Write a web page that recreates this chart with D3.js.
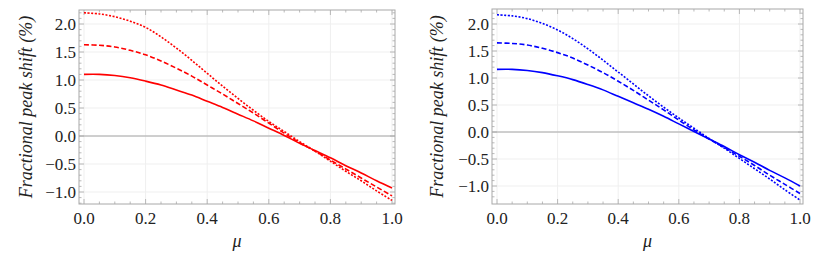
<!DOCTYPE html>
<html>
<head>
<meta charset="utf-8">
<script src="https://cdn.jsdelivr.net/npm/d3@7"></script>
<style>
body { margin: 0; background: #fff; }
</style>
</head>
<body>
<script>
// mu samples shared by every curve
const mu = [0, 0.05, 0.1, 0.15, 0.2, 0.25, 0.3, 0.35, 0.4, 0.45, 0.5,
            0.55, 0.6, 0.65, 0.7, 0.75, 0.8, 0.85, 0.9, 0.95, 1.0];

// left panel (red)
const leftSolid  = [1.10, 1.10, 1.08, 1.04, 0.98, 0.91, 0.82, 0.73, 0.62, 0.51, 0.39,
                    0.27, 0.14, 0.01, -0.13, -0.26, -0.39, -0.53, -0.66, -0.80, -0.93];
const leftDashed = [1.63, 1.62, 1.59, 1.53, 1.45, 1.34, 1.21, 1.07, 0.91, 0.75, 0.58,
                    0.41, 0.23, 0.05, -0.12, -0.27, -0.43, -0.59, -0.75, -0.91, -1.07];
const leftDotted = [2.20, 2.18, 2.13, 2.05, 1.94, 1.77, 1.57, 1.35, 1.12, 0.89, 0.67,
                    0.46, 0.26, 0.08, -0.10, -0.27, -0.45, -0.63, -0.80, -0.98, -1.15];

// right panel (blue)
const rightSolid  = [1.16, 1.16, 1.14, 1.10, 1.04, 0.97, 0.88, 0.78, 0.66, 0.54, 0.42,
                     0.29, 0.15, 0.01, -0.13, -0.27, -0.42, -0.56, -0.71, -0.85, -1.00];
const rightDashed = [1.65, 1.64, 1.61, 1.55, 1.47, 1.37, 1.24, 1.10, 0.94, 0.77, 0.59,
                     0.41, 0.22, 0.04, -0.13, -0.29, -0.45, -0.62, -0.80, -0.97, -1.14];
const rightDotted = [2.17, 2.15, 2.10, 2.01, 1.89, 1.73, 1.54, 1.33, 1.11, 0.89, 0.67,
                     0.46, 0.26, 0.07, -0.12, -0.30, -0.49, -0.68, -0.87, -1.07, -1.26];

const xTicks = [0, 0.2, 0.4, 0.6, 0.8, 1.0];
const yTicks = [-1.0, -0.5, 0.0, 0.5, 1.0, 1.5, 2.0];
const yLabel = "Fractional peak shift (%)";
const xLabel = "\u03bc";

const FONT = "Liberation Serif";

const width = 830, height = 259;
const svg = d3.select("body").append("svg")
    .attr("width", width)
    .attr("height", height);

const fmt = d => d < 0 ? "\u2212" + d3.format(".1f")(-d) : d3.format(".1f")(d);

function drawPanel(p) {
    const g = svg.append("g");
    const x = d3.scaleLinear().domain([0, 1]).range([p.x0, p.x1]);
    const y = d3.scaleLinear().domain([-1, 2]).range([p.yMinus1, p.y2]);
    const L = p.x0 - 5, R = p.x1 + 3, T = p.top, B = p.bottom;

    // grid
    g.selectAll(".vg").data(xTicks).enter().append("line")
        .attr("x1", d => x(d)).attr("x2", d => x(d))
        .attr("y1", T).attr("y2", B)
        .attr("stroke", "#efefef").attr("stroke-width", 1);
    g.selectAll(".hg").data(yTicks).enter().append("line")
        .attr("x1", L).attr("x2", R)
        .attr("y1", d => y(d)).attr("y2", d => y(d))
        .attr("stroke", "#efefef").attr("stroke-width", 1);

    // zero axis
    g.append("line")
        .attr("x1", L).attr("x2", R)
        .attr("y1", y(0)).attr("y2", y(0))
        .attr("stroke", "#a6a6a6").attr("stroke-width", 1);

    // frame ticks (inward, all four sides)
    const xMinor = d3.range(0, 1.0001, 0.05).filter(v => Math.abs(v * 5 - Math.round(v * 5)) > 1e-6);
    const yMinor = d3.range(-1.2, 2.2001, 0.1).filter(v => Math.abs(v * 2 - Math.round(v * 2)) > 1e-6 && y(v) > T && y(v) < B);
    const tk = g.append("g").attr("stroke", "#a8a8a8").attr("stroke-width", 0.8);
    [[xTicks, 5], [xMinor, 2.5]].forEach(([arr, len]) => {
        tk.selectAll(null).data(arr).enter().append("line")
            .attr("x1", d => x(d)).attr("x2", d => x(d)).attr("y1", B).attr("y2", B - len);
        tk.selectAll(null).data(arr).enter().append("line")
            .attr("x1", d => x(d)).attr("x2", d => x(d)).attr("y1", T).attr("y2", T + len);
    });
    [[yTicks, 5], [yMinor, 2.5]].forEach(([arr, len]) => {
        tk.selectAll(null).data(arr).enter().append("line")
            .attr("y1", d => y(d)).attr("y2", d => y(d)).attr("x1", L).attr("x2", L + len);
        tk.selectAll(null).data(arr).enter().append("line")
            .attr("y1", d => y(d)).attr("y2", d => y(d)).attr("x1", R).attr("x2", R - len);
    });

    // frame
    g.append("rect")
        .attr("x", L).attr("y", T).attr("width", R - L).attr("height", B - T)
        .attr("fill", "none").attr("stroke", "#a8a8a8").attr("stroke-width", 1);

    // tick labels
    g.selectAll(".xl").data(xTicks).enter().append("text")
        .attr("font-family", FONT)
        .attr("x", d => x(d)).attr("y", B + 20)
        .attr("text-anchor", "middle").attr("font-size", 17).attr("fill", "#222")
        .text(d => d3.format(".1f")(d));
    g.selectAll(".yl").data(yTicks).enter().append("text")
        .attr("font-family", FONT)
        .attr("x", L - 3).attr("y", d => y(d) + 5.5)
        .attr("text-anchor", "end").attr("font-size", 17).attr("fill", "#222")
        .text(fmt);

    // axis labels
    g.append("text")
        .attr("font-family", FONT).attr("font-style", "italic")
        .attr("transform", `translate(${p.yLabelX},${(T + B) / 2}) rotate(-90)`)
        .attr("text-anchor", "middle").attr("font-size", 18)
        .attr("fill", "#222").text(yLabel);
    g.append("text")
        .attr("font-family", FONT).attr("font-style", "italic")
        .attr("x", (L + R) / 2).attr("y", B + 43)
        .attr("text-anchor", "middle").attr("font-size", 18)
        .attr("fill", "#222").text(xLabel);

    // curves
    const line = d3.line()
        .x((d, i) => x(mu[i]))
        .y(d => y(d))
        .curve(d3.curveCatmullRom);
    const styles = [null, "5,2.5", "2,1.6"];
    p.series.forEach((s, i) => {
        g.append("path")
            .attr("d", line(s))
            .attr("fill", "none")
            .attr("stroke", p.color)
            .attr("stroke-width", 1.6)
            .attr("stroke-dasharray", styles[i]);
    });
}

drawPanel({
    x0: 84, x1: 392, yMinus1: 192, y2: 24, top: 10, bottom: 204,
    yLabelX: 32, color: "#ff0000",
    series: [leftSolid, leftDashed, leftDotted]
});
drawPanel({
    x0: 497, x1: 800, yMinus1: 186, y2: 24, top: 9, bottom: 204,
    yLabelX: 443, color: "#0000ff",
    series: [rightSolid, rightDashed, rightDotted]
});
</script>
</body>
</html>
